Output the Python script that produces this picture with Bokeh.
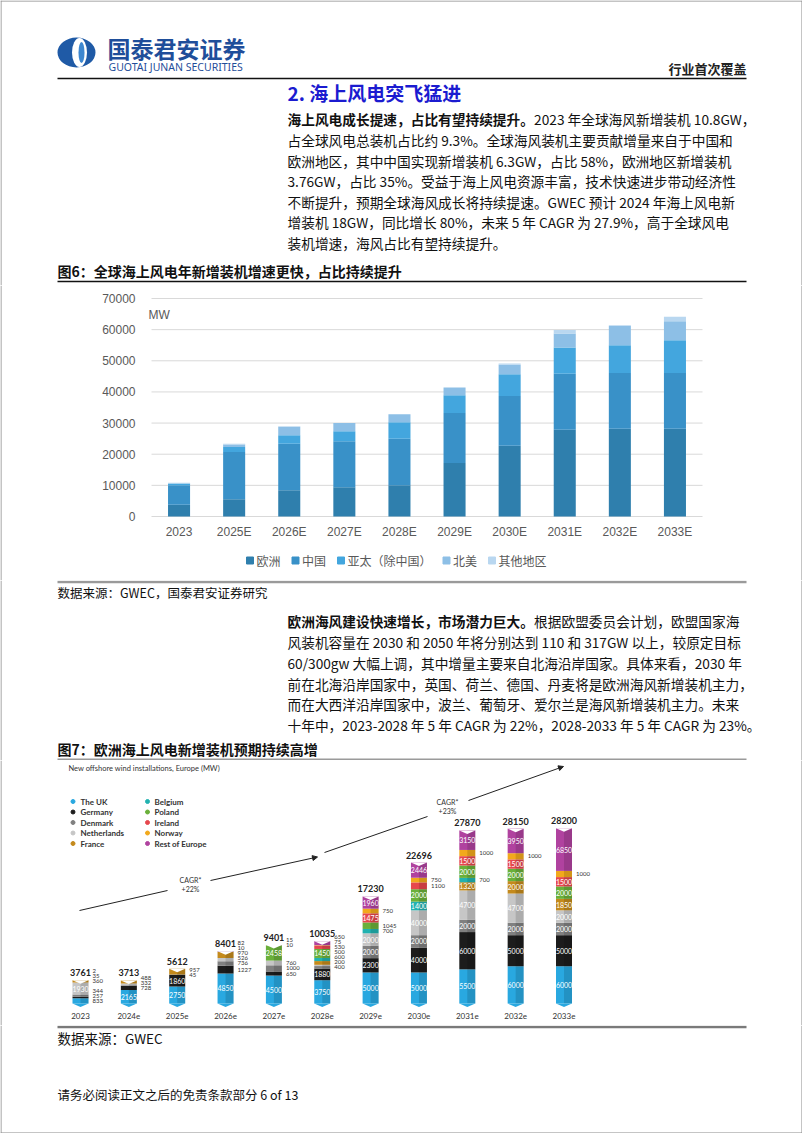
from bokeh.plotting import figure
from bokeh.models import Range1d, ColumnDataSource, FixedTicker, Arrow, NormalHead, Span
from bokeh.layouts import column
from bokeh.embed import file_html
from bokeh.resources import INLINE
from bokeh.core.properties import value
from bokeh.transform import dodge

CJK = "Noto Sans CJK SC"
LAT = "Lato"
ARIAL = "Liberation Sans"

# ---------------- Figure 6 data (MW) ----------------
years6 = ["2023", "2025E", "2026E", "2027E", "2028E", "2029E", "2030E", "2031E", "2032E", "2033E"]
europe6 = [3760, 5500, 8400, 9400, 10000, 17200, 22700, 27870, 28150, 28200]
china6 = [6300, 15200, 15000, 14800, 15000, 16000, 16000, 18000, 17900, 17900]
apac6 = [500, 1600, 2650, 3200, 5300, 5700, 7000, 8400, 8900, 10500]
na6 = [0, 850, 2800, 2600, 2500, 2500, 3000, 4500, 6200, 6100]
other6 = [240, 250, 150, 0, 0, 0, 430, 1100, 300, 1400]
series6_names = ["欧洲", "中国", "亚太（除中国）", "北美", "其他地区"]
series6_colors = ["#2f7fad", "#3991c8", "#43a6de", "#8dbfe6", "#b9d7f0"]
yticks6 = [0, 10000, 20000, 30000, 40000, 50000, 60000, 70000]

# ---------------- Figure 7 data (MW) ----------------
years7 = ["2023", "2024e", "2025e", "2026e", "2027e", "2028e", "2029e", "2030e", "2031e", "2032e", "2033e"]
totals7 = [3761, 3713, 5612, 8401, 9401, 10035, 17230, 22696, 27870, 28150, 28200]
uk = [833, 2165, 2750, 4850, 4500, 3750, 5000, 5000, 5500, 6000, 6000]
germany = [257, 728, 1860, 1227, 650, 1880, 2300, 4000, 6000, 5000, 5000]
denmark = [344, 0, 45, 736, 1000, 400, 2000, 2000, 2000, 2000, 2000]
netherlands = [1930, 332, 0, 526, 760, 200, 2000, 4000, 4700, 4700, 2000]
france = [360, 488, 957, 970, 0, 600, 0, 0, 1320, 2000, 1850]
belgium = [35, 0, 0, 0, 0, 500, 700, 1400, 700, 0, 0]
poland = [0, 0, 0, 10, 2458, 1450, 1045, 2000, 2000, 2000, 2000]
ireland = [0, 0, 0, 0, 10, 530, 1475, 1100, 1500, 1500, 1500]
norway = [2, 0, 0, 0, 0, 75, 750, 750, 1000, 1000, 1000]
rest = [0, 0, 0, 82, 15, 650, 1960, 2446, 3150, 3950, 6850]
countries7 = ["The UK", "Germany", "Denmark", "Netherlands", "France",
              "Belgium", "Poland", "Ireland", "Norway", "Rest of Europe"]
colors7 = ["#29a8e0", "#1c1c1c", "#808080", "#c6c6c6", "#c48a1c",
           "#22b2b0", "#6ab03a", "#e6474d", "#f2a91c", "#b0429f"]
series7 = [uk, germany, denmark, netherlands, france, belgium, poland, ireland, norway, rest]

# ---------------- Text content ----------------
para1_bold = "海上风电成长提速，占比有望持续提升。"
para1 = ["2023 年全球海风新增装机 10.8GW，",
         "占全球风电总装机占比约 9.3%。全球海风装机主要贡献增量来自于中国和",
         "欧洲地区，其中中国实现新增装机 6.3GW，占比 58%，欧洲地区新增装机",
         "3.76GW，占比 35%。受益于海上风电资源丰富，技术快速进步带动经济性",
         "不断提升，预期全球海风成长将持续提速。GWEC 预计 2024 年海上风电新",
         "增装机 18GW，同比增长 80%，未来 5 年 CAGR 为 27.9%，高于全球风电",
         "装机增速，海风占比有望持续提升。"]
para2_bold = "欧洲海风建设快速增长，市场潜力巨大。"
para2 = ["根据欧盟委员会计划，欧盟国家海",
         "风装机容量在 2030 和 2050 年将分别达到 110 和 317GW 以上，较原定目标",
         "60/300gw 大幅上调，其中增量主要来自北海沿岸国家。具体来看，2030 年",
         "前在北海沿岸国家中，英国、荷兰、德国、丹麦将是欧洲海风新增装机主力，",
         "而在大西洋沿岸国家中，波兰、葡萄牙、爱尔兰是海风新增装机主力。未来",
         "十年中，2023-2028 年 5 年 CAGR 为 22%，2028-2033 年 5 年 CAGR 为 23%。"]

W = 802
FS = 13.7  # body font size
BORDER = "#8a8a8a"


def page_fig(h, top=False, bottom=False):
    p = figure(width=W, height=h, x_range=Range1d(0, W), y_range=Range1d(h, 0),
               toolbar_location=None, output_backend="svg", min_border=0,
               x_axis_location=None, y_axis_location=None)
    p.grid.visible = False
    p.outline_line_color = None
    p.segment(x0=[0.5, W - 0.5], y0=[0, 0], x1=[0.5, W - 0.5], y1=[h, h], line_color=BORDER, line_width=1)
    if top:
        p.segment(x0=[0], y0=[0.5], x1=[W], y1=[0.5], line_color=BORDER, line_width=1)
    if bottom:
        p.segment(x0=[0], y0=[h - 0.5], x1=[W], y1=[h - 0.5], line_color=BORDER, line_width=1)
    return p


def txt(p, x, y, t, size, color="#111111", bold=False, font=CJK, align="left", baseline="middle"):
    p.text(x=[x], y=[y], text=[t], text_font=value(font), text_font_size=f"{size}px",
           text_color=color, text_font_style="bold" if bold else "normal",
           text_align=align, text_baseline=baseline)


def side_borders(p, xconv):
    for xp in (0.5, W - 0.5):
        p.add_layout(Span(location=xconv(xp), dimension="height", line_color=BORDER, line_width=1))


# ================= A: header + paragraph 1 (page 0..285) =================
A = page_fig(285, top=True)
A.ellipse(x=[76], y=[52], width=[38], height=[30], fill_color="#1f5aa6", line_color=None)
A.ellipse(x=[79], y=[52], width=[15], height=[29], fill_color="white", line_color=None)
A.ellipse(x=[81], y=[52], width=[6], height=[21], fill_color="#3d87d0", line_color=None)
txt(A, 107, 47, "国泰君安证券", 23, color="#1f4e9a", bold=True)
txt(A, 108, 66, "GUOTAI JUNAN SECURITIES", 10.5, color="#1f4e9a", font="Noto Sans")
txt(A, 746, 68, "行业首次覆盖", 13, color="#222222", bold=True, align="right")
A.line(x=[57, 746], y=[78, 78], line_color="#111111", line_width=1.5)
txt(A, 287, 92, "2.  海上风电突飞猛进", 19, color="#1b1bd0", bold=True)
ys1 = [118, 139, 160, 180, 201, 221, 242]
txt(A, 287, ys1[0], para1_bold, FS, bold=True)
txt(A, 287 + len(para1_bold) * FS, ys1[0], para1[0], FS)
for yy, line in zip(ys1[1:], para1[1:]):
    txt(A, 287, yy, line, FS)
txt(A, 57, 270, "图6：全球海上风电年新增装机增速更快，占比持续提升", 14, bold=True)
A.line(x=[57, 746], y=[281, 281], line_color="#111111", line_width=1.5)

# ================= B: figure 6 chart (page 285..580) =================
B_TOP, B_H = 285.0, 295
ZERO6, TOP6 = 516.0, 298.0     # page y of 0 and 70000
LEFT6, STEP6 = 151.0, 55.1     # page x of plot left edge, category step


def XB(px):
    return (px - LEFT6) / STEP6 - 0.5


def YB(py):
    return (ZERO6 - py) * 70000 / (ZERO6 - TOP6)


B = figure(width=W, height=B_H, x_range=Range1d(XB(0), XB(W)),
           y_range=Range1d(YB(B_TOP + B_H), YB(B_TOP)),
           toolbar_location=None, output_backend="svg", min_border=0)
B.outline_line_color = None
B.grid.visible = False
side_borders(B, XB)
xs6 = list(range(len(years6)))
B.segment(x0=[-0.5] * len(yticks6), x1=[len(years6) - 0.5] * len(yticks6), y0=yticks6, y1=yticks6,
          line_color="#d9d9d9", line_width=1)
src6 = ColumnDataSource(dict(x=xs6, s0=europe6, s1=china6, s2=apac6, s3=na6, s4=other6))
B.vbar_stack(["s0", "s1", "s2", "s3", "s4"], x="x", width=0.4, color=series6_colors,
             line_color=None, source=src6)
B.yaxis.ticker = FixedTicker(ticks=yticks6)
B.yaxis.fixed_location = -0.5
B.xaxis.ticker = FixedTicker(ticks=xs6)
B.xaxis.major_label_overrides = {i: y for i, y in enumerate(years6)}
B.xaxis.fixed_location = 0
for ax in (B.xaxis, B.yaxis):
    ax.axis_line_color = None
    ax.major_tick_line_color = None
    ax.minor_tick_line_color = None
    ax.major_label_text_font = ARIAL
    ax.major_label_text_font_size = "12px"
    ax.major_label_text_color = "#595959"
B.yaxis.major_label_standoff = 10
B.xaxis.major_label_standoff = 2
B.text(x=[XB(148)], y=[YB(314)], text=["MW"], text_font=value(ARIAL), text_font_size="12px",
       text_color="#595959", text_baseline="middle")
sq_x, tx_x = [], []
cur = 249.5
for n in series6_names:
    sq_x.append(XB(cur))
    tx_x.append(XB(cur + 6.5))
    cur = cur + 6.5 + 12 * len(n) + 15
B.scatter(x=sq_x, y=[YB(560)] * 5, marker="square", size=7, color=series6_colors)
B.text(x=tx_x, y=[YB(560)] * 5, text=series6_names, text_font=value(CJK), text_font_size="12px",
       text_color="#595959", text_baseline="middle")

# ================= C: source + paragraph 2 + fig7 title (page 580..760) =================
C = page_fig(180)
C.line(x=[57, 746], y=[1.5, 1.5], line_color="#9a9a9a", line_width=2.5)
txt(C, 57, 12, "数据来源：GWEC，国泰君安证券研究", 12.5)
ys2 = [40, 61, 82, 103, 123, 144]
txt(C, 287, ys2[0], para2_bold, FS, bold=True)
txt(C, 287 + len(para2_bold) * FS, ys2[0], para2[0], FS)
for yy, line in zip(ys2[1:], para2[1:]):
    txt(C, 287, yy, line, FS)
txt(C, 57, 168, "图7：欧洲海上风电新增装机预期持续高增", 14, bold=True)
C.line(x=[57, 746], y=[179, 179], line_color="#9a9a9a", line_width=2)

# ================= D: figure 7 chart (page 760..1025) =================
STEP = 48.35   # px per category
X0 = 80.0      # page x of first bar
BASE = 1003.0  # page y of zero
MWPX = 161.0   # MW per pixel
D_TOP, D_H = 760.0, 265


def X(px):
    return (px - X0) / STEP


def Y(py):
    return (BASE - py) * MWPX


D = figure(width=W, height=D_H, x_range=Range1d(X(0), X(W)),
           y_range=Range1d(Y(D_TOP + D_H), Y(D_TOP)),
           toolbar_location=None, output_backend="svg", min_border=0, y_axis_location=None)
D.grid.visible = False
D.outline_line_color = None
side_borders(D, X)
D.xaxis.ticker = FixedTicker(ticks=list(range(len(years7))))
D.xaxis.major_label_overrides = {i: y for i, y in enumerate(years7)}
D.xaxis.fixed_location = 0
D.xaxis.axis_line_color = None
D.xaxis.major_tick_line_color = None
D.xaxis.minor_tick_line_color = None
D.xaxis.major_label_text_font = LAT
D.xaxis.major_label_text_font_size = "8px"
D.xaxis.major_label_text_color = "#333333"
D.xaxis.major_label_standoff = 3

keys = [f"c{k}" for k in range(len(series7))]
xs7 = list(range(len(years7)))
d7 = {"x": xs7}
for k, s in zip(keys, series7):
    d7[k] = s
src7 = ColumnDataSource(d7)
BW = 16 / STEP
D.vbar_stack(keys, x="x", width=BW, color=colors7, line_color=None, source=src7)
D.vbar_stack(keys, x=dodge("x", BW / 4), width=BW / 2, fill_color="black", fill_alpha=0.13,
             line_color=None, source=src7)
notch = 3.5 * MWPX
D.patches(xs=[[i - BW / 2, i + BW / 2, i] for i in xs7],
          ys=[[t + 1, t + 1, t - notch] for t in totals7], fill_color="white", line_color=None)
D.patches(xs=[[i - BW / 2, i + BW / 2, i] for i in xs7],
          ys=[[0, 0, -notch] for _ in xs7], fill_color=colors7[0], line_color=None)

in_x, in_y, in_t, out_x, out_y, out_t = [], [], [], [], [], []
gap = 5 * MWPX
for i in range(len(years7)):
    cum = 0
    prev = -1e9
    for s in series7:
        v = s[i]
        if v <= 0:
            continue
        mid = cum + v / 2
        if v >= 1300:
            in_x.append(i); in_y.append(mid); in_t.append(str(v))
        else:
            yy = max(mid, prev + gap)
            out_x.append(i + 12 / STEP); out_y.append(yy); out_t.append(str(v))
            prev = yy
        cum += v
D.text(x=in_x, y=in_y, text=in_t, text_font=value(LAT), text_font_size="7px", text_color="white",
       text_align="center", text_baseline="middle")
D.text(x=out_x, y=out_y, text=out_t, text_font=value(LAT), text_font_size="6px",
       text_color="#333333", text_align="left", text_baseline="middle")
D.text(x=xs7, y=[t + 4 * MWPX for t in totals7], text=[str(t) for t in totals7],
       text_font=value(LAT), text_font_size="9px", text_font_style="bold", text_color="#222222",
       text_align="center", text_baseline="bottom")

D.text(x=[X(68)], y=[Y(768)], text=["New offshore wind installations, Europe (MW)"],
       text_font=value(LAT), text_font_size="7.5px", text_color="#333333", text_baseline="middle")
rows = [801, 811.5, 822, 832.5, 843]
lx, ly, tx = [], [], []
for k in range(len(countries7)):
    col = k // 5
    r = k % 5
    lx.append(X(72.5 if col == 0 else 147))
    tx.append(X(80 if col == 0 else 154))
    ly.append(Y(rows[r]))
D.scatter(x=lx, y=ly, size=4, color=colors7, marker="circle")
D.text(x=tx, y=ly, text=countries7, text_font=value(LAT), text_font_size="8px",
       text_font_style="bold", text_color="#333333", text_baseline="middle")

D.segment(x0=[X(79), X(324)], y0=[Y(910), Y(852)], x1=[X(167), X(427)], y1=[Y(890), Y(816)],
          line_color="#222222", line_width=1)
for (xa, ya, xb, yb) in [(210, 880, 317, 856.5), (468, 800, 563, 766)]:
    D.add_layout(Arrow(end=NormalHead(size=5, fill_color="#222222", line_color="#222222"),
                       x_start=X(xa), y_start=Y(ya), x_end=X(xb), y_end=Y(yb),
                       line_color="#222222", line_width=1))
D.text(x=[X(190), X(190), X(447), X(447)], y=[Y(879), Y(888), Y(801), Y(810)],
       text=["CAGR*", "+22%", "CAGR*", "+23%"], text_font=value(LAT), text_font_size="7px",
       text_color="#333333", text_align="center", text_baseline="middle")

# ================= E: source + footer (page 1025..1133) =================
E = page_fig(108, bottom=True)
E.line(x=[57, 746], y=[1.5, 1.5], line_color="#7a7a7a", line_width=2.5)
txt(E, 57, 12, "数据来源：GWEC", 13.5)
txt(E, 57, 69, "请务必阅读正文之后的免责条款部分 6 of 13", 12.5)

page = column(A, B, C, D, E, spacing=0)
open("out.html", "w").write(file_html(page, INLINE))
